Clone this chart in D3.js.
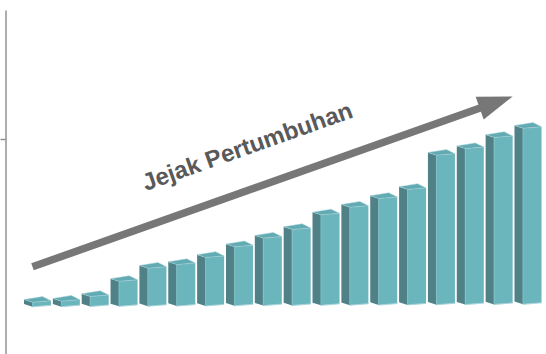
<!DOCTYPE html>
<html>
<head>
<meta charset="utf-8">
<script src="https://cdn.jsdelivr.net/npm/d3@7"></script>
<style>
  html, body { margin: 0; padding: 0; background: #ffffff; }
  svg { display: block; }
</style>
</head>
<body>
<svg id="chart" width="546" height="354"></svg>
<script>
// Growth series: one 3D column per period
const periods = ["P1","P2","P3","P4","P5","P6","P7","P8","P9","P10","P11","P12","P13","P14","P15","P16","P17","P18"];
const growth  = [4.5, 5.5, 10, 25, 38, 41.5, 48.5, 59, 67.5, 76, 90.5, 98, 106.5, 115.5, 149.5, 156, 167, 176];

// Trend arrow drawn over the columns, in data units
const trendStart = { period: "P1",  edge: 0, value: 40 };
const trendEnd   = { period: "P17", edge: 1, value: 208 };
const trendLabel = "Jejak Pertumbuhan";

const W = 546, H = 354;
const svg = d3.select("#chart");

// Layout of the column block
const depthX = 8.5, depthY = 2.7;      // receding side face
const frontRise = 1.5;                  // slight perspective on the front face
const backRise = 4.2;                   // extra rise of the rear top edge
const floorLeft = 306.8, floorRight = 304.3;

const x = d3.scaleBand()
  .domain(periods)
  .range([24, 541.5])
  .paddingInner(0.064)
  .paddingOuter(0);

const y = d3.scaleLinear().domain([0, 200]).range([0, 200]);

// floor line tilts a little towards the right
const floor = d3.scaleLinear()
  .domain([0, periods.length - 1])
  .range([floorLeft, floorRight]);

const colors = {
  front: "#6bb5bd",
  side: "#4f8187",
  top: "#63abb3",
  edge: "#a8d3d8"
};

// Vertical axis with a single tick
const axisScale = d3.scaleLinear().domain([0, 1]).range([H, 10]);
const axis = d3.axisLeft(axisScale).tickValues([0.625]).tickSize(5).tickFormat("").tickSizeOuter(0);
svg.append("g")
  .attr("transform", "translate(5.5,0)")
  .call(axis)
  .call(g => g.selectAll("path, line").attr("stroke", "#8a8a8a").attr("stroke-width", 1.4));

// Columns
const bars = svg.append("g").attr("class", "bars");
const step = x.bandwidth();
const frontW = step - depthX;

periods.forEach((p, i) => {
  const a = x(p) + depthX;            // front-left x
  const B = floor(i);                 // front-left bottom y
  const h = y(growth[i]);
  const FLb = [a, B], FRb = [a + frontW, B - frontRise];
  const FLt = [a, B - h], FRt = [a + frontW, B - frontRise - h];
  const BLb = [a - depthX, B - depthY], BLt = [a - depthX, B - depthY - h];
  const BRt = [a + frontW - depthX, B - frontRise - backRise - h];

  const poly = pts => "M" + pts.map(q => q.join(",")).join("L") + "Z";
  const g = bars.append("g");
  g.append("path").attr("d", poly([BLb, FLb, FLt, BLt])).attr("fill", colors.side);
  g.append("path").attr("d", poly([FLb, FRb, FRt, FLt])).attr("fill", colors.front);
  g.append("path").attr("d", poly([FLt, FRt, BRt, BLt])).attr("fill", colors.top)
    .attr("stroke", colors.edge).attr("stroke-width", 0.5).attr("stroke-linejoin", "round");
  g.append("path").attr("d", poly([FLb, FRb])).attr("stroke", colors.edge).attr("stroke-width", 0.6).attr("fill", "none");
  g.append("path").attr("d", poly([FLb, FLt])).attr("stroke", "#7fc0c7").attr("stroke-width", 0.6).attr("fill", "none");
});

// Trend arrow
const idx = p => periods.indexOf(p);
const px = t => x(t.period) + depthX + t.edge * frontW;
const py = t => floor(idx(t.period)) - y(t.value);
const x0 = px(trendStart), y0 = py(trendStart);
const x1 = px(trendEnd),   y1 = py(trendEnd);
const ang = Math.atan2(y1 - y0, x1 - x0);
const headLen = 35, headHalf = 12, shaft = 7.5;
const ux = Math.cos(ang), uy = Math.sin(ang);
const bx = x1 - ux * headLen, by = y1 - uy * headLen;

svg.append("line")
  .attr("x1", x0).attr("y1", y0).attr("x2", bx + ux * 2).attr("y2", by + uy * 2)
  .attr("stroke", "#777777").attr("stroke-width", shaft);
svg.append("path")
  .attr("d", d3.line()([
    [x1, y1],
    [bx - uy * headHalf, by + ux * headHalf],
    [bx + uy * headHalf, by - ux * headHalf]
  ]) + "Z")
  .attr("fill", "#777777");

// Label along the arrow
const deg = ang * 180 / Math.PI;
const tx = 250, ty = 154;
svg.append("text")
  .attr("transform", `translate(${tx},${ty}) rotate(${deg})`)
  .attr("text-anchor", "middle")
  .attr("font-family", "'Liberation Sans', Arial, sans-serif")
  .attr("font-weight", "bold")
  .attr("font-size", 24)
  .attr("fill", "#595959")
  .text(trendLabel);
</script>
</body>
</html>
